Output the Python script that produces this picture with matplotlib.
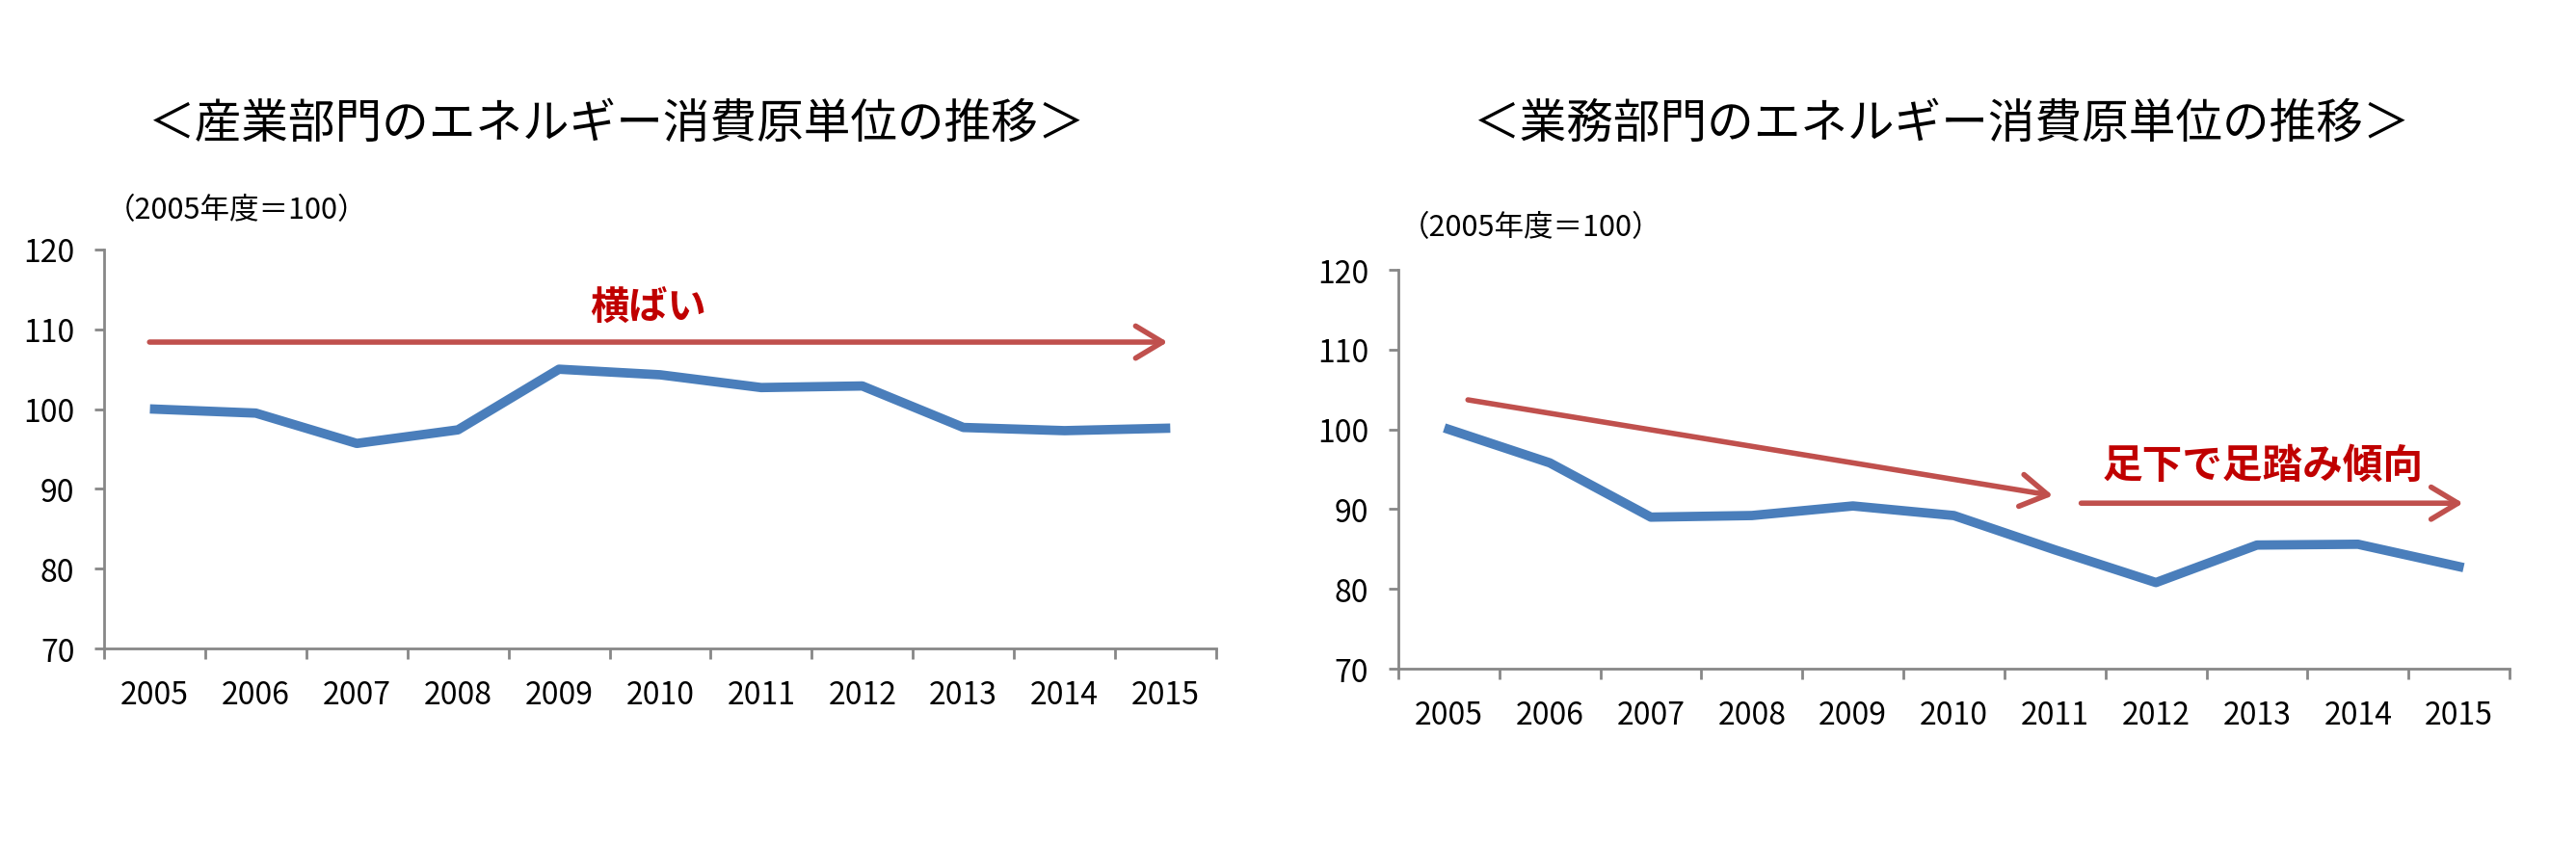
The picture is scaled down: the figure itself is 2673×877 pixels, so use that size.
import matplotlib
matplotlib.use("Agg")
import numpy as np
from matplotlib import pyplot as plt

plt.rcParams['font.family'] = ['Noto Sans CJK JP', 'DejaVu Sans']

years = ['2005', '2006', '2007', '2008', '2009', '2010',
         '2011', '2012', '2013', '2014', '2015']
industry = [100.0, 99.5, 95.7, 97.4, 105.0, 104.3, 102.7, 102.9, 97.7, 97.3, 97.6]
business = [100.0, 95.8, 89.0, 89.2, 90.4, 89.2, 84.9, 80.8, 85.5, 85.6, 82.8]

title_left = '＜産業部門のエネルギー消費原単位の推移＞'
title_right = '＜業務部門のエネルギー消費原単位の推移＞'
unit_label = '（2005年度＝100）'
note_left = '横ばい'
note_right = '足下で足踏み傾向'

blue = '#4A7EBB'
arrow_red = '#C0504D'
text_red = '#C00000'
gray = '#878787'

fig = plt.figure(figsize=(26.73, 8.78), dpi=100)
ax1 = fig.add_axes([0.0404, 0.2323, 0.4317, 0.4716])
ax2 = fig.add_axes([0.5428, 0.2084, 0.4314, 0.4715])

x = np.arange(len(years))


def style_axes(ax):
    ax.set_xlim(-0.5, len(years) - 0.5)
    ax.set_ylim(70, 120)
    ax.set_yticks(range(70, 121, 10))
    ax.set_xticks(x)
    ax.set_xticklabels(years)
    ax.set_xticks(np.arange(-0.5, len(years), 1.0), minor=True)
    for s in ['top', 'right']:
        ax.spines[s].set_visible(False)
    for s in ['left', 'bottom']:
        ax.spines[s].set_color(gray)
        ax.spines[s].set_linewidth(2)
    ax.tick_params(axis='y', length=7, width=2, color=gray, pad=15, labelsize=23)
    ax.tick_params(axis='x', which='major', length=0, pad=23, labelsize=23)
    ax.tick_params(axis='x', which='minor', length=8, width=2, color=gray)


def arrow(ax, start, end):
    ax.annotate('', xy=end, xytext=start,
                arrowprops=dict(arrowstyle='->,head_length=0.5,head_width=0.3',
                                mutation_scale=40, lw=4, color=arrow_red,
                                shrinkA=0, shrinkB=0))


# 産業部門
ax1.plot(x, industry, color=blue, lw=7, solid_joinstyle='round')
style_axes(ax1)
arrow(ax1, (-0.05, 108.4), (10.02, 108.4))
ax1.text(4.88, 112.7, note_left, color=text_red, fontsize=29, fontweight='bold',
         ha='center', va='center')

# 業務部門
ax2.plot(x, business, color=blue, lw=7, solid_joinstyle='round')
style_axes(ax2)
arrow(ax2, (0.19, 103.7), (5.98, 91.7))
arrow(ax2, (6.26, 90.75), (10.04, 90.75))
ax2.text(8.06, 95.5, note_right, color=text_red, fontsize=30, fontweight='bold',
         ha='center', va='center')

fig.text(0.2394, 0.853, title_left, fontsize=35, ha='center', va='center')
fig.text(0.7538, 0.853, title_right, fontsize=35, ha='center', va='center')
fig.text(0.041, 0.7506, unit_label, fontsize=22, ha='left', va='center')
fig.text(0.5436, 0.731, unit_label, fontsize=22, ha='left', va='center')

fig.savefig('out.png', dpi=100, facecolor='white')
